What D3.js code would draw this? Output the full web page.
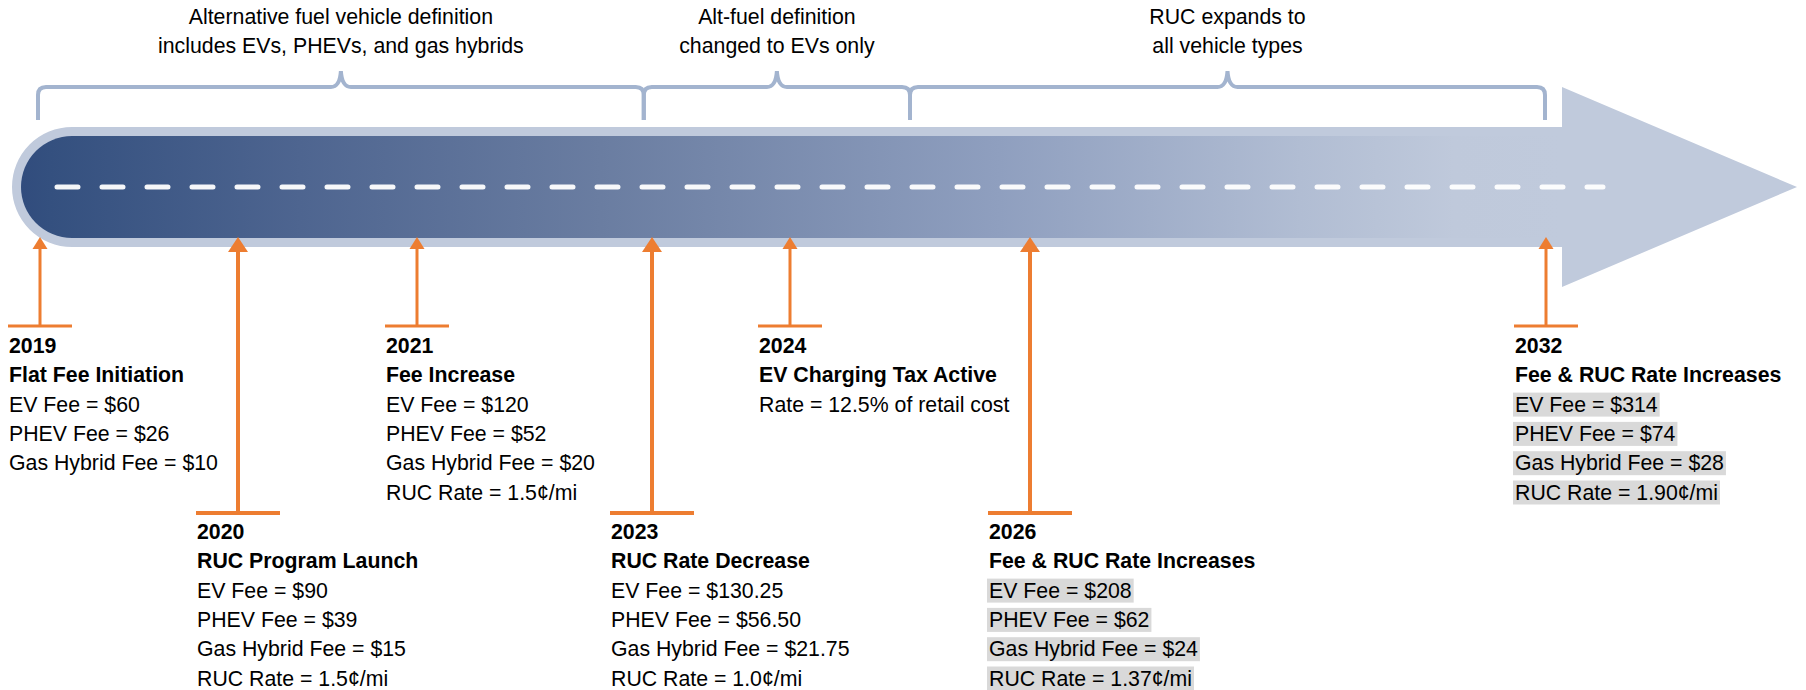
<!DOCTYPE html>
<html>
<head>
<meta charset="utf-8">
<script src="https://cdn.jsdelivr.net/npm/d3@7"></script>
<style>
html,body{margin:0;padding:0;background:#fff;}
svg{display:block;}
text{font-family:"Liberation Sans",Arial,sans-serif;font-size:21.3px;fill:#000;}
</style>
</head>
<body>
<svg id="chart" width="1806" height="690"></svg>
<script>
// ---- data ----
const years = [2019, 2020, 2021, 2023, 2024, 2026, 2032];
const titles = ["Flat Fee Initiation", "RUC Program Launch", "Fee Increase", "RUC Rate Decrease",
  "EV Charging Tax Active", "Fee & RUC Rate Increases", "Fee & RUC Rate Increases"];
const details = [
  ["EV Fee = $60", "PHEV Fee = $26", "Gas Hybrid Fee = $10"],
  ["EV Fee = $90", "PHEV Fee = $39", "Gas Hybrid Fee = $15", "RUC Rate = 1.5¢/mi"],
  ["EV Fee = $120", "PHEV Fee = $52", "Gas Hybrid Fee = $20", "RUC Rate = 1.5¢/mi"],
  ["EV Fee = $130.25", "PHEV Fee = $56.50", "Gas Hybrid Fee = $21.75", "RUC Rate = 1.0¢/mi"],
  ["Rate = 12.5% of retail cost"],
  ["EV Fee = $208", "PHEV Fee = $62", "Gas Hybrid Fee = $24", "RUC Rate = 1.37¢/mi"],
  ["EV Fee = $314", "PHEV Fee = $74", "Gas Hybrid Fee = $28", "RUC Rate = 1.90¢/mi"]
];
const highlighted = [false, false, false, false, false, true, true];
const placement = ["upper", "lower", "upper", "lower", "upper", "lower", "upper"];
const eraStart = [2019, 2022.93, 2025];
const eraEnd = [2022.93, 2025, 2032];
const eraLabels = [
  ["Alternative fuel vehicle definition", "includes EVs, PHEVs, and gas hybrids"],
  ["Alt-fuel definition", "changed to EVs only"],
  ["RUC expands to", "all vehicle types"]
];

// ---- layout ----
const svg = d3.select("#chart");
const x = d3.scaleLinear().domain(years).range([40, 238, 417, 652, 790, 1030, 1546]);
const orange = "#ed7d31";
const light = "#c0cadc";
const roadTop = 127, roadBot = 247, roadEnd = 1562, tipX = 1797;
const midY = (roadTop + roadBot) / 2;

const defs = svg.append("defs");
const grad = defs.append("linearGradient").attr("id", "roadGrad")
  .attr("gradientUnits", "userSpaceOnUse").attr("x1", 21).attr("x2", roadEnd).attr("y1", 0).attr("y2", 0);
[[0, "#314c7d"], [0.019, "#34507f"], [0.181, "#4e6590"], [0.376, "#6a7da1"], [0.635, "#8f9fbf"],
 [0.83, "#b1bdd3"], [0.93, "#bfc9db"], [1, light]]
  .forEach(([o, c]) => grad.append("stop").attr("offset", o).attr("stop-color", c));

// road outer + arrow head
const R = (roadBot - roadTop) / 2;
const outerPath = d3.path();
outerPath.moveTo(12 + R, roadTop);
outerPath.lineTo(roadEnd, roadTop);
outerPath.lineTo(roadEnd, 87);
outerPath.lineTo(tipX, midY);
outerPath.lineTo(roadEnd, 287);
outerPath.lineTo(roadEnd, roadBot);
outerPath.lineTo(12 + R, roadBot);
outerPath.arc(12 + R, midY, R, Math.PI / 2, 3 * Math.PI / 2);
outerPath.closePath();
svg.append("path").attr("d", outerPath.toString()).attr("fill", light);

// inner band
const iTop = 136, iBot = 238, r2 = (iBot - iTop) / 2;
const innerPath = d3.path();
innerPath.moveTo(21 + r2, iTop);
innerPath.lineTo(roadEnd, iTop);
innerPath.lineTo(roadEnd, iBot);
innerPath.lineTo(21 + r2, iBot);
innerPath.arc(21 + r2, (iTop + iBot) / 2, r2, Math.PI / 2, 3 * Math.PI / 2);
innerPath.closePath();
svg.append("path").attr("d", innerPath.toString()).attr("fill", "url(#roadGrad)");

// dashes
svg.append("line").attr("x1", 57).attr("x2", 1603).attr("y1", midY).attr("y2", midY)
  .attr("stroke", "#ffffff").attr("stroke-width", 5).attr("stroke-linecap", "round")
  .attr("stroke-dasharray", "21 24").attr("opacity", 0.95);

// brackets
const bTop = 87, bBot = 120, peakY = 71, cr = 8, pw = 10;
eraStart.forEach((s, i) => {
  const x0 = x(s) - (i === 0 ? 2 : 0), x1 = x(eraEnd[i]) - (i === 2 ? 1 : 0), m = (x0 + x1) / 2;
  const p = `M${x0},${bBot} L${x0},${bTop + cr} Q${x0},${bTop} ${x0 + cr},${bTop} L${m - pw},${bTop} ` +
    `Q${m - 1},${bTop} ${m},${peakY} Q${m + 1},${bTop} ${m + pw},${bTop} L${x1 - cr},${bTop} ` +
    `Q${x1},${bTop} ${x1},${bTop + cr} L${x1},${bBot}`;
  svg.append("path").attr("d", p).attr("fill", "none").attr("stroke", "#a3b4cf").attr("stroke-width", 4);
  eraLabels[i].forEach((t, j) => {
    svg.append("text").attr("x", m).attr("y", 24 + j * 29.3).attr("text-anchor", "middle").text(t);
  });
});

// milestones
const tipY = 237, lineH = 29.3;
years.forEach((yr, i) => {
  const cx = x(yr);
  const low = placement[i] === "lower";
  const barY = low ? 513 : 326;
  const half = low ? 42 : 32;
  const sw = low ? 4 : 3;
  const hw = low ? 10 : 7.5, hl = low ? 15 : 12;
  const g = svg.append("g");
  g.append("line").attr("x1", cx).attr("x2", cx).attr("y1", tipY + hl - 2).attr("y2", barY)
    .attr("stroke", orange).attr("stroke-width", sw);
  g.append("path").attr("d", `M${cx},${tipY} L${cx + hw},${tipY + hl} L${cx - hw},${tipY + hl} Z`).attr("fill", orange);
  g.append("line").attr("x1", cx - half).attr("x2", cx + half).attr("y1", barY).attr("y2", barY)
    .attr("stroke", orange).attr("stroke-width", sw);

  const tx = cx - half + 1;
  const base = low ? 539 : 353;
  g.append("text").attr("x", tx).attr("y", base).attr("font-weight", "bold").text(yr);
  g.append("text").attr("x", tx).attr("y", base + lineH).attr("font-weight", "bold").text(titles[i]);
  details[i].forEach((t, j) => {
    const by = base + lineH * (j + 2);
    const txt = g.append("text").attr("x", tx).attr("y", by).text(t);
    if (highlighted[i]) {
      const w = txt.node().getComputedTextLength();
      g.insert("rect", () => txt.node()).attr("x", tx - 2).attr("y", by - 19).attr("width", w + 4).attr("height", 24)
        .attr("fill", "#d9d9d9");
    }
  });
});
</script>
</body>
</html>
